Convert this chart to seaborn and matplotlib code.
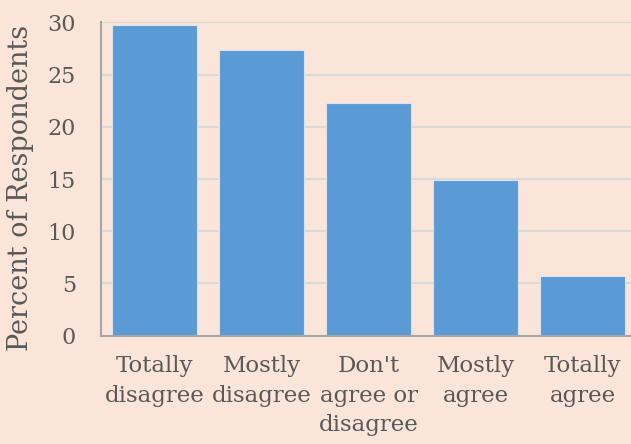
import matplotlib
matplotlib.use("Agg")
import matplotlib.pyplot as plt
import seaborn as sns
import pandas as pd

categories = ["Totally\ndisagree", "Mostly\ndisagree", "Don't\nagree or\ndisagree", "Mostly\nagree", "Totally\nagree"]
values = [29.8, 27.4, 22.3, 14.9, 5.7]
yticks = [0, 5, 10, 15, 20, 25, 30]

bg = "#FAE5D8"
text_color = "#595959"

sns.set_theme(style="white")
plt.rcParams["font.family"] = ["DejaVu Serif"]

df = pd.DataFrame({"category": categories, "value": values})

fig = plt.figure(figsize=(6.31, 4.44), dpi=100, facecolor=bg)
ax = fig.add_axes([101/631, 1 - 335.5/444, 535/631, 313/444])
ax.set_facecolor(bg)

sns.barplot(data=df, x="category", y="value", color="#5B9BD5", saturation=1,
            width=0.8, edgecolor="#DCE3EE", linewidth=0.8, ax=ax, zorder=3)

ax.set_xlim(-0.5, 4.5)
ax.set_ylim(0, 30)
ax.set_yticks(yticks)
ax.set_yticklabels([str(t) for t in yticks])
ax.yaxis.grid(True, color="#D9D9D9", linewidth=1.5, zorder=0)
ax.set_axisbelow(True)
ax.xaxis.grid(False)

for s in ["top", "right"]:
    ax.spines[s].set_visible(False)
for s in ["left", "bottom"]:
    ax.spines[s].set_color("#A6A6A6")
    ax.spines[s].set_linewidth(1.5)
    ax.spines[s].set_zorder(4)

ax.tick_params(axis="y", length=0, pad=18, labelsize=16, labelcolor=text_color)
ax.tick_params(axis="x", length=0, pad=14, labelsize=16.5, labelcolor=text_color)
for lbl in ax.get_xticklabels():
    lbl.set_linespacing(1.45)

ax.set_xlabel("")
ax.set_ylabel("Percent of Respondents", fontsize=19.5, color=text_color)
ax.yaxis.set_label_coords(-0.125, 0.47)

fig.savefig("out.png", dpi=100, facecolor=bg)
